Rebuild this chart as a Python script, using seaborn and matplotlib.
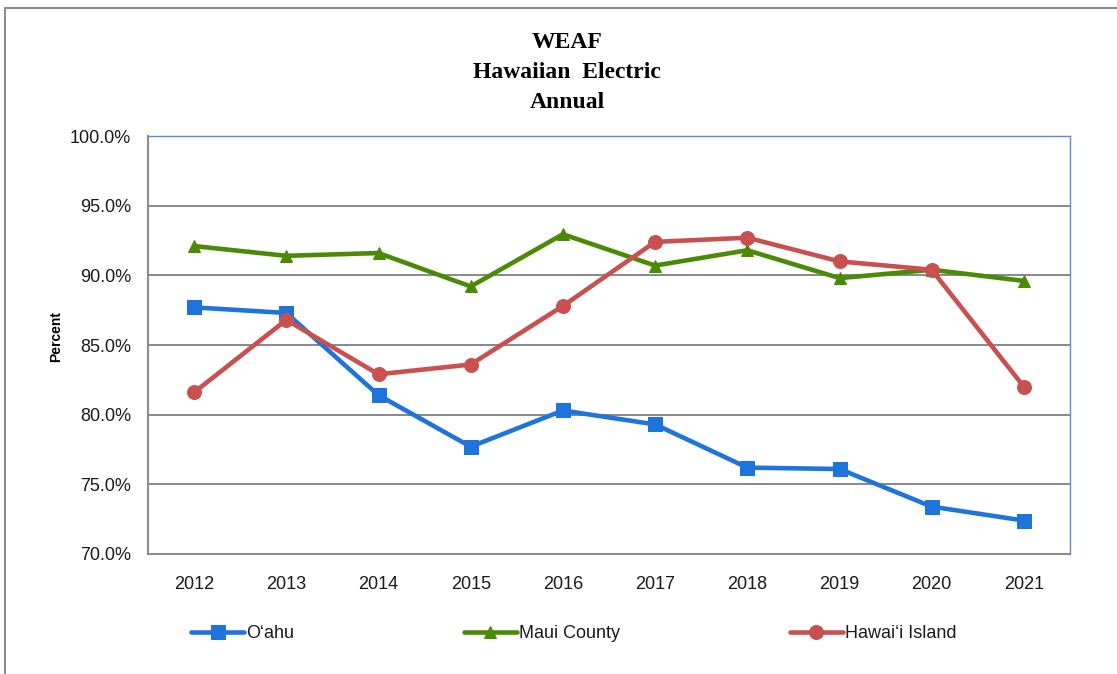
import numpy as np
import pandas as pd
import matplotlib
matplotlib.use("Agg")
import matplotlib.pyplot as plt
from matplotlib.lines import Line2D
from matplotlib.ticker import FuncFormatter
import seaborn as sns

# values (percent)
years = [2012, 2013, 2014, 2015, 2016, 2017, 2018, 2019, 2020, 2021]
oahu = [87.7, 87.3, 81.4, 77.7, 80.3, 79.3, 76.2, 76.1, 73.4, 72.4]
maui = [92.1, 91.4, 91.6, 89.2, 92.95, 90.7, 91.8, 89.8, 90.4, 89.6]
hawaii = [81.6, 86.8, 82.9, 83.6, 87.8, 92.4, 92.7, 91.0, 90.4, 82.0]

series_names = ["O\u2018ahu", "Maui County", "Hawai\u2018i Island"]
colors = ["#1f74dc", "#4a8a06", "#c9504f"]
markers = ["s", "^", "o"]
msizes = [10.5, 9, 10]

df = pd.DataFrame({
    "year": years * 3,
    "value": oahu + maui + hawaii,
    "series": [s for s in series_names for _ in years],
})

sns.set_style("white")
plt.rcParams["font.family"] = ["Liberation Sans", "DejaVu Sans"]

fig = plt.figure(figsize=(11.17, 6.74), dpi=100)
ax = fig.add_axes([148 / 1117, 120 / 674, 922 / 1117, 418 / 674])

for name, col, mk, ms in zip(series_names, colors, markers, msizes):
    sub = df[df["series"] == name]
    sns.lineplot(data=sub, x="year", y="value", ax=ax, color=col, marker=mk,
                 markersize=ms, markeredgecolor=col, linewidth=3.3, label=name,
                 zorder=3)

ax.set_xlim(2011.5, 2021.5)
ax.set_ylim(70, 100)
ax.set_xticks(years)
ax.set_xticklabels([str(y) for y in years])
ax.set_yticks(np.arange(70, 100.1, 5))
ax.yaxis.set_major_formatter(FuncFormatter(lambda v, p: f"{v:.1f}%"))
ax.tick_params(axis="both", length=0, labelsize=13, colors="#1a1a1a")
ax.tick_params(axis="y", pad=12)
ax.tick_params(axis="x", pad=16)
ax.grid(axis="y", color="#7f7f7f", linewidth=1.3, zorder=1)
ax.grid(axis="x", visible=False)

for side in ["left", "bottom"]:
    ax.spines[side].set_color("#8c8c8c")
    ax.spines[side].set_linewidth(1.5)
for side in ["top", "right"]:
    ax.spines[side].set_color("#5b8ed0")
    ax.spines[side].set_linewidth(1.0)

ax.set_xlabel("")
ax.set_ylabel("Percent", fontsize=10, fontweight="bold", color="black")
ax.yaxis.set_label_coords(-0.092, 0.52)

# title
title_lines = ["WEAF", "Hawaiian  Electric", "Annual"]
for i, t in enumerate(title_lines):
    fig.text(567 / 1117, 1 - (42 + 30 * i) / 674, t, ha="center", va="center",
             fontsize=17, fontweight="bold", color="black",
             family=["Liberation Serif", "DejaVu Serif"])

# legend
handles, labels = ax.get_legend_handles_labels()
ax.get_legend().remove()
leg = fig.legend(handles, labels, loc="center left",
                 bbox_to_anchor=(191 / 1117, 1 - 634 / 674), ncol=3, frameon=False,
                 fontsize=13, handlelength=2.95, handletextpad=0.1, columnspacing=9.4,
                 borderaxespad=0, borderpad=0)
for txt in leg.get_texts():
    txt.set_color("#1a1a1a")

# outer chart border
fig.add_artist(Line2D([5 / 1117, 1], [1 - 8 / 674, 1 - 8 / 674],
                      transform=fig.transFigure, color="#8c8c8c", linewidth=1.5))
fig.add_artist(Line2D([5 / 1117, 5 / 1117], [0, 1 - 8 / 674],
                      transform=fig.transFigure, color="#8c8c8c", linewidth=1.5))

fig.savefig("out.png", dpi=100)
